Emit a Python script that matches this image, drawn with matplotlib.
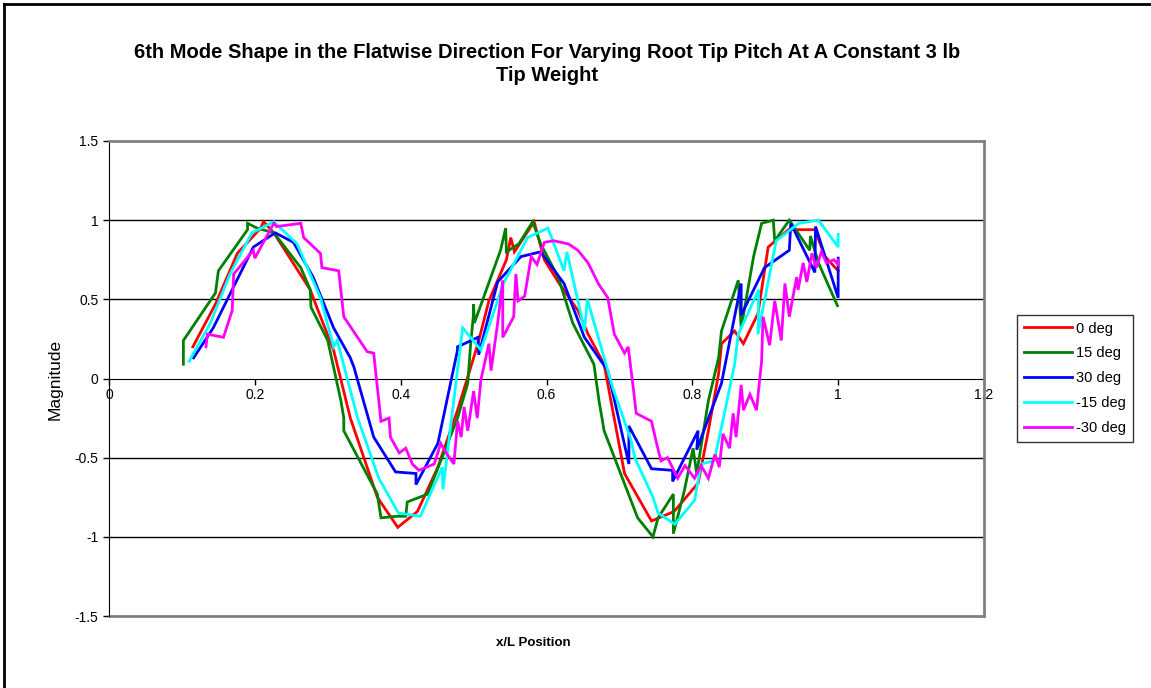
import matplotlib.pyplot as plt
import matplotlib.lines as mlines

plt.rcParams['font.family'] = ['Liberation Sans', 'DejaVu Sans']

# 0 deg
x_0 = [0.115, 0.146, 0.176, 0.208, 0.212, 0.226, 0.276, 0.285, 0.308, 0.331, 0.368, 0.396, 0.423,
       0.451, 0.478, 0.506, 0.521, 0.545, 0.551, 0.556, 0.583, 0.597, 0.616, 0.643, 0.657, 0.679,
       0.707, 0.744, 0.775, 0.808, 0.822, 0.836, 0.84, 0.858, 0.87, 0.89, 0.904, 0.932, 0.968,
       0.982, 1.0]
y_0 = [0.2, 0.47, 0.79, 0.95, 0.99, 0.92, 0.56, 0.45, 0.18, -0.25, -0.75, -0.94, -0.84,
       -0.56, -0.2, 0.22, 0.49, 0.75, 0.89, 0.8, 0.99, 0.75, 0.61, 0.43, 0.28, 0.09,
       -0.6, -0.9, -0.84, -0.66, -0.33, 0.03, 0.22, 0.3, 0.22, 0.41, 0.83, 0.94, 0.94,
       0.77, 0.68]

# 15 deg
x_15 = [0.102, 0.102, 0.146, 0.15, 0.19, 0.19, 0.203, 0.226, 0.263, 0.276, 0.277, 0.3, 0.318,
        0.322, 0.322, 0.368, 0.373, 0.396, 0.407, 0.409, 0.437, 0.478, 0.492, 0.496, 0.5, 0.5,
        0.501, 0.537, 0.544, 0.545, 0.562, 0.581, 0.592, 0.616, 0.636, 0.665, 0.672, 0.679,
        0.725, 0.746, 0.753, 0.774, 0.774, 0.789, 0.801, 0.806, 0.822, 0.836, 0.84, 0.863,
        0.867, 0.884, 0.895, 0.911, 0.913, 0.933, 0.961, 0.962, 0.973, 0.999]
y_15 = [0.09, 0.24, 0.54, 0.68, 0.94, 0.98, 0.95, 0.92, 0.7, 0.56, 0.45, 0.24, -0.14,
        -0.25, -0.33, -0.73, -0.88, -0.87, -0.87, -0.78, -0.73, -0.25, -0.03, 0.22, 0.41, 0.47,
        0.35, 0.81, 0.95, 0.8, 0.85, 0.99, 0.85, 0.64, 0.35, 0.09, -0.14, -0.33,
        -0.88, -1.0, -0.88, -0.73, -0.98, -0.71, -0.44, -0.6, -0.14, 0.13, 0.3, 0.62,
        0.32, 0.77, 0.98, 1.0, 0.87, 1.0, 0.81, 0.9, 0.73, 0.46]

# 30 deg
x_30 = [0.116, 0.143, 0.171, 0.198, 0.228, 0.253, 0.28, 0.308, 0.331, 0.336, 0.363, 0.393,
        0.421, 0.421, 0.451, 0.478, 0.478, 0.506, 0.507, 0.533, 0.565, 0.592, 0.624, 0.652,
        0.684, 0.713, 0.713, 0.744, 0.773, 0.773, 0.808, 0.806, 0.84, 0.854, 0.867, 0.867,
        0.899, 0.933, 0.935, 0.968, 0.969, 1.0, 1.0]
y_30 = [0.13, 0.32, 0.58, 0.83, 0.92, 0.86, 0.64, 0.32, 0.13, 0.07, -0.37, -0.59,
        -0.6, -0.67, -0.41, 0.18, 0.2, 0.26, 0.15, 0.61, 0.77, 0.8, 0.6, 0.26,
        0.05, -0.54, -0.3, -0.57, -0.58, -0.65, -0.33, -0.45, -0.03, 0.3, 0.6, 0.4,
        0.7, 0.81, 0.98, 0.67, 0.96, 0.51, 0.76]

# -15 deg
x_m15 = [0.11, 0.139, 0.166, 0.196, 0.226, 0.258, 0.29, 0.308, 0.313, 0.341, 0.37, 0.397, 0.427,
         0.457, 0.458, 0.485, 0.51, 0.541, 0.574, 0.602, 0.624, 0.628, 0.647, 0.652, 0.656,
         0.691, 0.716, 0.721, 0.746, 0.753, 0.776, 0.803, 0.812, 0.83, 0.844, 0.858, 0.863,
         0.891, 0.89, 0.915, 0.946, 0.973, 1.0, 1.0]
y_m15 = [0.11, 0.35, 0.66, 0.92, 0.99, 0.85, 0.51, 0.2, 0.24, -0.25, -0.63, -0.85, -0.87,
         -0.56, -0.7, 0.32, 0.18, 0.6, 0.89, 0.95, 0.68, 0.8, 0.41, 0.3, 0.5,
         -0.06, -0.39, -0.5, -0.75, -0.85, -0.92, -0.77, -0.54, -0.52, -0.22, 0.09, 0.28,
         0.56, 0.28, 0.87, 0.98, 1.0, 0.83, 0.91]

# -30 deg
x_m30 = [0.133, 0.135, 0.157, 0.169, 0.171, 0.198, 0.2, 0.226, 0.23, 0.263, 0.267, 0.29, 0.292,
         0.315, 0.322, 0.354, 0.363, 0.373, 0.384, 0.386, 0.398, 0.407, 0.416, 0.425, 0.446,
         0.455, 0.464, 0.473, 0.478, 0.483, 0.487, 0.492, 0.5, 0.505, 0.51, 0.521, 0.524,
         0.533, 0.54, 0.54, 0.555, 0.558, 0.561, 0.57, 0.579, 0.587, 0.597,
         0.61, 0.63, 0.643, 0.657, 0.671, 0.684, 0.693, 0.707, 0.712, 0.719, 0.723, 0.744,
         0.751, 0.757, 0.766, 0.78, 0.79, 0.803, 0.812, 0.822, 0.831, 0.837, 0.842, 0.851,
         0.856, 0.86, 0.867, 0.87, 0.879, 0.888, 0.895, 0.897, 0.906, 0.913, 0.922, 0.927,
         0.933, 0.943, 0.945, 0.952, 0.957, 0.964, 0.97, 0.977, 0.984, 0.994, 1.0, 1.0]
y_m30 = [0.2, 0.28, 0.26, 0.43, 0.66, 0.81, 0.76, 0.98, 0.96, 0.98, 0.89, 0.79, 0.7,
         0.68, 0.39, 0.17, 0.16, -0.27, -0.25, -0.37, -0.47, -0.44, -0.54, -0.58, -0.54,
         -0.41, -0.48, -0.54, -0.27, -0.37, -0.18, -0.33, -0.08, -0.25, -0.01, 0.22, 0.05,
         0.35, 0.62, 0.26, 0.39, 0.66, 0.49, 0.52, 0.77, 0.72, 0.86,
         0.87, 0.85, 0.81, 0.73, 0.6, 0.51, 0.28, 0.16, 0.2, -0.06, -0.22, -0.27,
         -0.41, -0.52, -0.5, -0.63, -0.55, -0.63, -0.55, -0.63, -0.48, -0.56, -0.35, -0.44,
         -0.22, -0.37, -0.04, -0.2, -0.1, -0.2, 0.11, 0.39, 0.21, 0.49, 0.24, 0.6,
         0.39, 0.64, 0.56, 0.73, 0.61, 0.79, 0.7, 0.8, 0.73, 0.75, 0.72, 0.75]

series = [
    (x_0, y_0, '#FF0000', '0 deg'),
    (x_15, y_15, '#008000', '15 deg'),
    (x_30, y_30, '#0000FF', '30 deg'),
    (x_m15, y_m15, '#00FFFF', '-15 deg'),
    (x_m30, y_m30, '#FF00FF', '-30 deg'),
]

fig = plt.figure(figsize=(11.51, 6.88), dpi=100)
ax = fig.add_axes([109 / 1151, 1 - 616 / 688, 875 / 1151, 475 / 688])

for yg in [-1.0, -0.5, 0.5, 1.0]:
    ax.axhline(yg, color='black', lw=1.0, zorder=1)

handles = []
for xs, ys, c, lab in series:
    ax.plot(xs, ys, color=c, lw=2.0, zorder=3, solid_joinstyle='miter')
    handles.append(mlines.Line2D([], [], color=c, lw=2.0, label=lab))

ax.set_xlim(0, 1.2)
ax.set_ylim(-1.5, 1.5)
ax.set_xticks([0, 0.2, 0.4, 0.6, 0.8, 1.0, 1.2])
ax.set_xticklabels(['0', '0.2', '0.4', '0.6', '0.8', '1', '1.2'])
ax.set_yticks([-1.5, -1, -0.5, 0, 0.5, 1, 1.5])
ax.set_yticklabels(['-1.5', '-1', '-0.5', '0', '0.5', '1', '1.5'])

ax.spines['bottom'].set_position(('data', 0))
ax.spines['bottom'].set_color('black')
ax.spines['bottom'].set_zorder(2)
ax.spines['left'].set_color('black')
ax.spines['top'].set_color('#808080')
ax.spines['right'].set_color('#808080')
for s in ['top', 'right']:
    ax.spines[s].set_linewidth(2)
ax.tick_params(axis='both', labelsize=10, colors='black', length=4, width=1)
ax.tick_params(axis='x', pad=3)

# bottom border of plot area (gray)
ax.plot([0, 1], [0, 0], transform=ax.transAxes, color='#808080', lw=2, clip_on=False)

fig.text(55 / 1151, 1 - 379 / 688, 'Magnitude', fontsize=12.5, rotation=90,
         ha='center', va='center')
fig.text(533 / 1151, 1 - 643 / 688, 'x/L Position', fontsize=9.5, fontweight='bold',
         ha='center', va='center')
fig.text(547 / 1151, 1 - 64 / 688,
         '6th Mode Shape in the Flatwise Direction For Varying Root Tip Pitch At A Constant 3 lb\nTip Weight',
         fontsize=14.5, fontweight='bold', ha='center', va='center', linespacing=1.25)

leg = fig.legend(handles=handles, loc='upper left',
                 bbox_to_anchor=(1017 / 1151, 1 - 315 / 688), fontsize=10.5,
                 frameon=True, fancybox=False, edgecolor='black', handlelength=3.3,
                 handletextpad=0.3, labelspacing=0.75, borderpad=0.45, borderaxespad=0)
leg.get_frame().set_linewidth(1)

# figure border (left and top visible)
fig.add_artist(mlines.Line2D([4 / 1151, 4 / 1151], [0, 1 - 4 / 688], color='black', lw=2,
                             transform=fig.transFigure))
fig.add_artist(mlines.Line2D([4 / 1151, 1], [1 - 4 / 688, 1 - 4 / 688], color='black', lw=2,
                             transform=fig.transFigure))

fig.savefig('out.png', dpi=100)
